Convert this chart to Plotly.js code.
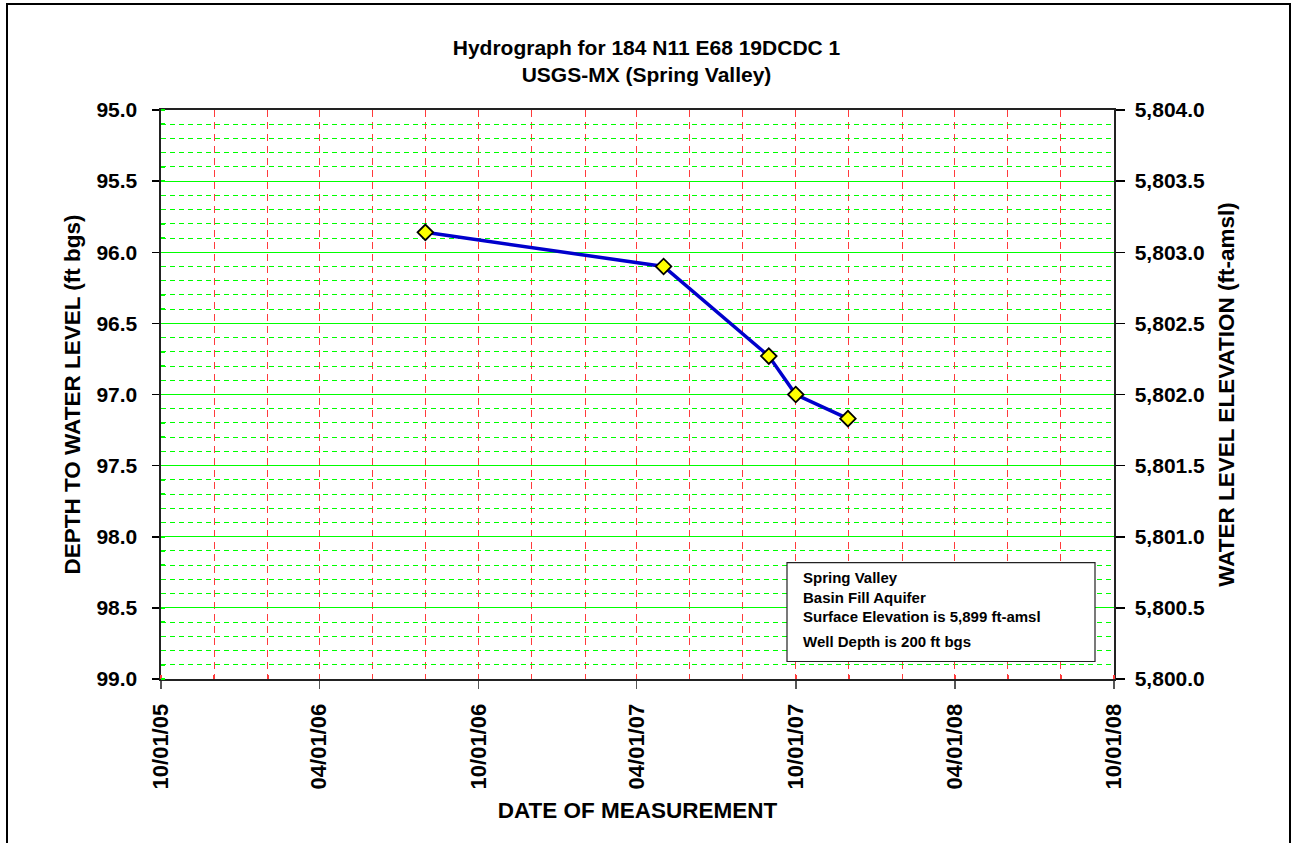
<!DOCTYPE html>
<html>
<head>
<meta charset="utf-8">
<script src="https://cdn.plot.ly/plotly-3.0.1.min.js"></script>
<style>
  html, body { margin: 0; padding: 0; background: #fff; }
  #chart { width: 1293px; height: 843px; }
</style>
</head>
<body>
<div id="chart"></div>
<script>
// ---- Data ----
const measurementDates = ['2006-08-01', '2007-05-02', '2007-08-31', '2007-10-01', '2007-11-30'];
const depthToWater = [95.86, 96.10, 96.73, 97.00, 97.17];
const surfaceElevation = 5899;
const xTickStart = '2005-10-01';
const xRange = ['2005-10-01', '2008-10-01'];
const depthRange = [99, 95];
const elevationRange = [5800, 5804];
const infoLines = [
  'Spring Valley',
  'Basin Fill Aquifer',
  'Surface Elevation is 5,899 ft-amsl',
  'Well Depth is 200 ft bgs'
];
const elevation = depthToWater.map(d => surfaceElevation - d);

const FONT = 'Liberation Sans, Arial, sans-serif';
const GREEN = '#00ff00';
const RED = '#ff3b3b';

const W = 1293, H = 843;
const L = 161, R = 1114, T = 110, B = 679.5;
const pw = R - L, ph = B - T;
const px = x => (x - L) / pw;
const py = y => (B - y) / ph;

const traces = [
  {
    x: measurementDates, y: depthToWater, type: 'scatter', mode: 'lines+markers',
    line: { color: '#0000cc', width: 3.5 },
    marker: { symbol: 'diamond', size: 12, color: '#ffff00', line: { color: '#000', width: 1.8 } },
    showlegend: false, hoverinfo: 'x+y'
  },
  {
    x: measurementDates, y: elevation, type: 'scatter', mode: 'none', yaxis: 'y2',
    showlegend: false, hoverinfo: 'skip'
  }
];

const boxY0 = 563, boxY1 = 662, boxX0 = 787, boxX1 = 1095;
const lineYs = [578, 598, 617, 642];

const boldFont = (size) => ({ family: FONT, size: size, color: '#000', weight: 'bold' });

const annotations = infoLines.map((t, i) => ({
  text: t, xref: 'paper', yref: 'paper',
  x: px(801), y: py(lineYs[i]), xanchor: 'left', yanchor: 'middle',
  showarrow: false, font: boldFont(15)
}));

const layout = {
  width: W, height: H,
  margin: { l: L, r: W - R, t: T, b: H - B, pad: 0 },
  paper_bgcolor: '#fff', plot_bgcolor: '#fff',
  showlegend: false,
  title: {
    text: 'Hydrograph for 184 N11 E68 19DCDC 1<br>USGS-MX (Spring Valley)',
    font: boldFont(21),
    xref: 'container', yref: 'container', x: 0.5, y: 1 - 55 / H,
    xanchor: 'center', yanchor: 'middle'
  },
  xaxis: {
    type: 'date', range: xRange, tick0: xTickStart, dtick: 'M6',
    tickformat: '%m/%d/%y', tickangle: -90,
    tickfont: boldFont(22), ticklabelstandoff: 6,
    ticks: 'outside', ticklen: 8, tickcolor: '#555', tickwidth: 1.5,
    showgrid: true, gridcolor: RED, griddash: '7px,5px', gridwidth: 1,
    minor: { tick0: xTickStart, dtick: 'M2', showgrid: true, gridcolor: RED, griddash: '7px,5px', gridwidth: 1, ticks: 'inside', ticklen: 4, tickcolor: RED },
    showline: true, linecolor: '#222', linewidth: 2, mirror: true,
    zeroline: false,
    title: { text: 'DATE OF MEASUREMENT', font: boldFont(22.5), standoff: 14 }
  },
  yaxis: {
    range: depthRange, dtick: 0.5, tick0: 95, tickformat: '.1f',
    tickfont: boldFont(21),
    ticks: 'outside', ticklen: 7, tickcolor: '#000', tickwidth: 1.5,
    showgrid: true, gridcolor: GREEN, gridwidth: 1,
    minor: { dtick: 0.1, showgrid: true, gridcolor: GREEN, griddash: '5px,4px', gridwidth: 1, ticks: 'inside', ticklen: 4, tickcolor: GREEN },
    showline: true, linecolor: '#222', linewidth: 2.5,
    zeroline: false, ticklabelstandoff: 10,
    title: { text: 'DEPTH TO WATER LEVEL (ft bgs)', font: boldFont(22.5), standoff: 10 }
  },
  yaxis2: {
    overlaying: 'y', side: 'right', range: elevationRange, dtick: 0.5, tick0: 5800,
    tickformat: ',.1f',
    tickfont: boldFont(21),
    ticks: 'outside', ticklen: 9, tickcolor: '#000', tickwidth: 1.5,
    showgrid: false, showline: true, linecolor: '#222', linewidth: 1.5,
    zeroline: false, ticklabelstandoff: 6,
    title: { text: 'WATER LEVEL ELEVATION (ft-amsl)', font: boldFont(22.5), standoff: 14 }
  },
  shapes: [
    { type: 'rect', xref: 'paper', yref: 'paper', x0: px(boxX0), x1: px(boxX1), y0: py(boxY1), y1: py(boxY0),
      line: { color: '#222', width: 1.2 }, fillcolor: '#fff', layer: 'above' },
    { type: 'rect', xref: 'paper', yref: 'paper', x0: px(7), x1: px(1290), y0: py(860), y1: py(4),
      line: { color: '#000', width: 2 }, fillcolor: 'rgba(0,0,0,0)', layer: 'above' }
  ],
  annotations: annotations
};

Plotly.newPlot('chart', traces, layout, { displayModeBar: false, staticPlot: true });
</script>
</body>
</html>
